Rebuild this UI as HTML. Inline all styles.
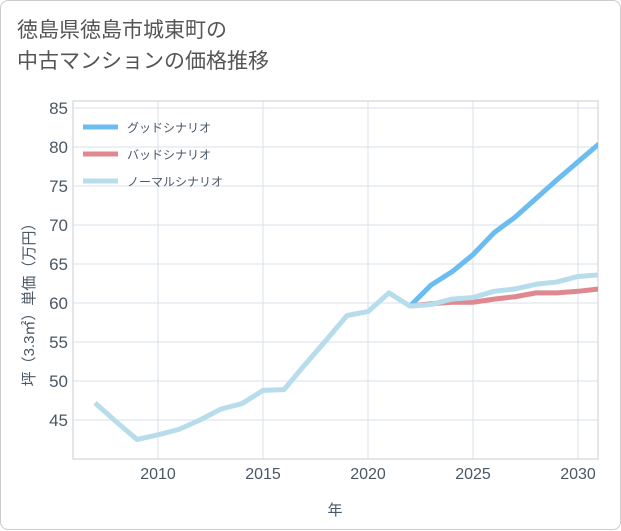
<!DOCTYPE html>
<html><head><meta charset="utf-8"><style>
body{margin:0;background:#fff;font-family:"Liberation Sans","Noto Sans CJK JP",sans-serif;}
#card{position:absolute;left:0;top:0;width:619px;height:528px;border:1px solid #ccc;border-radius:8px;background:#fff;}
#title{position:absolute;left:16px;top:14px;font-size:21px;line-height:31px;color:#555;}
</style></head><body>
<div id="card">
<div id="title">徳島県徳島市城東町の<br>中古マンションの価格推移</div>
<svg id="chart" width="621" height="530" style="position:absolute;left:0;top:0"></svg>
</div>
<script>
const years=[2007,2008,2009,2010,2011,2012,2013,2014,2015,2016,2017,2018,2019,2020,2021,2022,2023,2024,2025,2026,2027,2028,2029,2030,2031];
const normalVals=[47.2,44.8,42.5,43.1,43.8,45.0,46.4,47.1,48.8,48.9,52.1,55.2,58.4,58.9,61.3,59.6,59.8,60.5,60.7,61.5,61.8,62.4,62.7,63.4,63.6];
const goodYears=[2022,2023,2024,2025,2026,2027,2028,2029,2030,2031];
const goodVals=[59.6,62.3,64.0,66.2,69.0,71.0,73.4,75.8,78.1,80.4];
const badVals=[59.6,59.9,60.1,60.1,60.5,60.8,61.3,61.3,61.5,61.8];
const xTicks=[2010,2015,2020,2025,2030];
const yTicks=[45,50,55,60,65,70,75,80,85];
const legendLabels=["グッドシナリオ","バッドシナリオ","ノーマルシナリオ"];
const colors=["#6bbcf0","#e0888f","#b7dcec"];
const L=72,R=597,T=100,B=458;
const x=y=>157+(y-2010)*21;
const yS=v=>146+(80-v)*7.8;
const svg=document.getElementById('chart');const NS="http://www.w3.org/2000/svg";
function mk(t,a,p){const e=document.createElementNS(NS,t);for(const k in a)e.setAttribute(k,a[k]);(p||svg).appendChild(e);return e;}
const bg=mk('rect',{x:L,y:T,width:R-L,height:B-T,fill:'#fff',stroke:'#ccc'});


for(const t of xTicks){const g=mk('line',{x1:x(t),x2:x(t),y1:T,y2:B,stroke:'#d8e0e8'});


const tx=mk('text',{x:x(t),y:478,'text-anchor':'middle','font-size':16,fill:'#4a5866'});tx.textContent=t;

}
for(const t of yTicks){const g=mk('line',{x1:L,x2:R,y1:yS(t),y2:yS(t),stroke:'#d8e0e8'});


const tx=mk('text',{x:67,y:yS(t)+6,'text-anchor':'end','font-size':17,fill:'#4a5866'});tx.textContent=t;

}
const xt=mk('text',{x:334,y:514,'text-anchor':'middle','font-size':15,fill:'#4a5866'});xt.textContent='年';


const yt=mk('text',{x:0,y:0,'text-anchor':'middle','font-size':15,fill:'#4a5866',transform:'translate(33,300) rotate(-90)'});yt.textContent='坪（3.3㎡）単価（万円）';


const clip=mk('clipPath',{id:'c'});mk('rect',{x:L,y:T,width:R-L,height:B-T},clip);
function line(xs,vs,c,name){const p=mk('polyline',{points:xs.map((yr,i)=>x(yr)+','+yS(vs[i])).join(' '),fill:'none',stroke:c,'stroke-width':5,'stroke-linejoin':'round','clip-path':'url(#c)'});

}
line(goodYears,goodVals,colors[0],'good-scenario-line');
line(goodYears,badVals,colors[1],'bad-scenario-line');
line(years,normalVals,colors[2],'normal-scenario-line');
legendLabels.forEach((lb,i)=>{const yy=126+i*27;
const s=mk('line',{x1:82,x2:117,y1:yy,y2:yy,stroke:colors[i],'stroke-width':5});


const t=mk('text',{x:126,y:yy+5,'font-size':12,fill:'#4a5866'});t.textContent=lb;

});
</script>
</body></html>
